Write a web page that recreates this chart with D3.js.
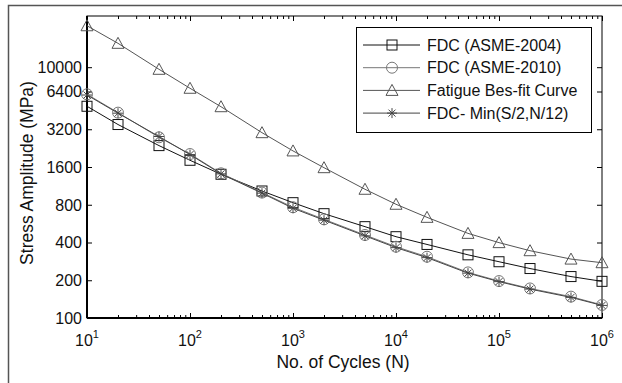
<!DOCTYPE html>
<html>
<head>
<meta charset="UTF-8">
<script src="https://cdn.jsdelivr.net/npm/d3@7/dist/d3.min.js"></script>
<style>
body{
    margin:0;
    background:#fff;
    font-family: "Liberation Sans", Arial, Helvetica, sans-serif;
}
</style>
</head>
<body>
<script>
// data
var cycles = [10, 20, 50, 100, 200, 500, 1000, 2000, 5000, 1e4, 2e4, 5e4, 1e5, 2e5, 5e5, 1e6]
var asme2004 = [4880, 3490, 2370, 1810, 1400, 1030, 831, 679, 535, 445, 386, 319, 281, 248, 214, 196]
var asme2010 = [6080, 4340, 2760, 2030, 1425, 1000, 764, 612, 459, 370, 308, 231, 197, 172, 148, 127]
var bestfit = [21400, 15500, 9620, 6790, 4840, 3005, 2150, 1580, 1063, 807, 635, 473, 399, 344, 295, 276]
var minFDC = [6000, 4300, 2800, 2010, 1410, 990, 750, 603, 452, 364, 303, 228, 195, 170, 146, 126]
var yTicks = [100, 200, 400, 800, 1600, 3200, 6400, 10000]
var decades = [1, 2, 3, 4, 5, 6]

var width = 622
var height = 383

var svg = d3.select('body')
    .append('svg')
    .attr('width', width)
    .attr('height', height)

// figure frame (only its top and left edges are inside the picture)
svg.append("rect")
    .attr("x", 8.5)
    .attr("y", 5.5)
    .attr("width", 700)
    .attr("height", 500)
    .attr("fill", "none")
    .attr("stroke", "#555")
    .attr("stroke-width", 1.5)

var pLeft = 87, pRight = 602, pTop = 16, pBottom = 318

var x = d3.scaleLog().domain([10, 1e6]).range([pLeft, pRight])
var y = d3.scaleLog().domain([100, 25600]).range([pBottom, pTop])

var majors = decades.map(function(d){ return Math.pow(10, d) })
var minors = []
for (let d = 1; d < 6; d++){
    for (let m = 2; m < 10; m++){
        minors.push(m * Math.pow(10, d))
    }
}

function styleAxis(g){
    g.select(".domain").remove()
    g.selectAll("line").attr("stroke", "#000").attr("stroke-width", 1)
    g.selectAll("text").remove()
}

// ticks, pointing in
svg.append("g").attr("transform", "translate(0," + pBottom + ")")
    .call(d3.axisBottom(x).tickValues(majors).tickSize(-5)).call(styleAxis)
svg.append("g").attr("transform", "translate(0," + pBottom + ")")
    .call(d3.axisBottom(x).tickValues(minors).tickSize(-3)).call(styleAxis)
svg.append("g").attr("transform", "translate(0," + pTop + ")")
    .call(d3.axisTop(x).tickValues(majors).tickSize(-5)).call(styleAxis)
svg.append("g").attr("transform", "translate(0," + pTop + ")")
    .call(d3.axisTop(x).tickValues(minors).tickSize(-3)).call(styleAxis)
svg.append("g").attr("transform", "translate(" + pLeft + ",0)")
    .call(d3.axisLeft(y).tickValues(yTicks).tickSize(-5)).call(styleAxis)
svg.append("g").attr("transform", "translate(" + pRight + ",0)")
    .call(d3.axisRight(y).tickValues(yTicks).tickSize(-5)).call(styleAxis)

// box
svg.append("rect")
    .attr("x", pLeft)
    .attr("y", pTop)
    .attr("width", pRight - pLeft)
    .attr("height", pBottom - pTop)
    .attr("fill", "none")
    .attr("stroke", "#000")
    .attr("stroke-width", 1)
svg.append("line").attr("x1", pLeft).attr("x2", pRight).attr("y1", pBottom).attr("y2", pBottom)
    .attr("stroke", "#000").attr("stroke-width", 2)
svg.append("line").attr("x1", pLeft).attr("x2", pLeft).attr("y1", pTop).attr("y2", pBottom)
    .attr("stroke", "#000").attr("stroke-width", 2)

// tick labels
var xl = svg.append("g").selectAll("text").data(decades).enter().append("text")
    .attr("x", function(d){ return x(Math.pow(10, d)) })
    .attr("y", 346)
    .attr("text-anchor", "middle")
    .attr("font-size", 16)
    .attr("fill", "#111")
xl.append("tspan").text("10")
xl.append("tspan").attr("dy", -8).attr("font-size", 11).text(function(d){ return d })

svg.append("g").selectAll("text").data(yTicks).enter().append("text")
    .attr("x", 82)
    .attr("y", function(d){ return y(d) })
    .attr("dy", "0.36em")
    .attr("text-anchor", "end")
    .attr("font-size", 16)
    .attr("fill", "#111")
    .text(function(d){ return d })

svg.append("text")
    .attr("x", 343)
    .attr("y", 368)
    .attr("text-anchor", "middle")
    .attr("font-size", 17.5)
    .attr("fill", "#111")
    .text("No. of Cycles (N)")

svg.append("text")
    .attr("transform", "translate(33,173) rotate(-90)")
    .attr("text-anchor", "middle")
    .attr("font-size", 17.5)
    .attr("fill", "#111")
    .text("Stress Amplitude (MPa)")

// markers
function marker(g, type, color){
    if (type == "square"){
        g.append("rect").attr("x", -5).attr("y", -5).attr("width", 10).attr("height", 10)
            .attr("fill", "none").attr("stroke", color)
    } else if (type == "circle"){
        g.append("circle").attr("r", 5.5).attr("fill", "none").attr("stroke", color)
    } else if (type == "triangle"){
        g.append("path").attr("d", "M0,-6L6,5L-6,5Z").attr("fill", "none").attr("stroke", color)
    } else {
        g.append("path").attr("d", "M-5,0H5M0,-5V5M-3.5,-3.5L3.5,3.5M-3.5,3.5L3.5,-3.5")
            .attr("fill", "none").attr("stroke", color)
    }
}

var series = [
    {name: "FDC (ASME-2004)", values: asme2004, type: "square", color: "#111"},
    {name: "FDC (ASME-2010)", values: asme2010, type: "circle", color: "#777"},
    {name: "Fatigue Bes-fit Curve", values: bestfit, type: "triangle", color: "#555"},
    {name: "FDC- Min(S/2,N/12)", values: minFDC, type: "star", color: "#444"}
]

var line = d3.line()
    .x(function(d){ return x(d[0]) })
    .y(function(d){ return y(d[1]) })

series.forEach(function(s){
    var pts = cycles.map(function(c, i){ return [c, s.values[i]] })
    svg.append("path")
        .attr("d", line(pts))
        .attr("fill", "none")
        .attr("stroke", s.color)
        .attr("stroke-width", 1)
    svg.append("g").selectAll("g").data(pts).enter().append("g")
        .attr("transform", function(d){ return "translate(" + x(d[0]) + "," + y(d[1]) + ")" })
        .each(function(){ marker(d3.select(this), s.type, s.color) })
})

// legend
svg.append("rect")
    .attr("x", 356.5)
    .attr("y", 27.5)
    .attr("width", 235)
    .attr("height", 105)
    .attr("fill", "#fff")
    .attr("stroke", "#000")
    .attr("stroke-width", 1)

series.forEach(function(s, i){
    var ly = 45 + i * 22.7
    svg.append("line")
        .attr("x1", 363).attr("x2", 420).attr("y1", ly).attr("y2", ly)
        .attr("stroke", s.color).attr("stroke-width", 1)
    marker(svg.append("g").attr("transform", "translate(392," + ly + ")"), s.type, s.color)
    svg.append("text")
        .attr("x", 427)
        .attr("y", ly)
        .attr("dy", "0.36em")
        .attr("font-size", 16)
        .attr("fill", "#111")
        .text(s.name)
})
</script>
</body>
</html>
